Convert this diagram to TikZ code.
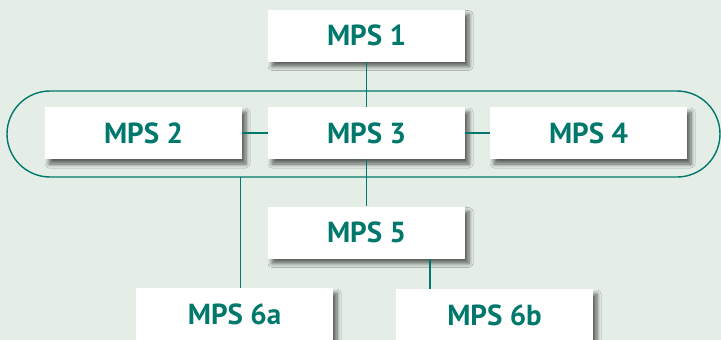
\documentclass[tikz,border=0pt]{standalone}
\usepackage{fontspec}
\setmainfont{PT Sans}
\usetikzlibrary{shadows.blur}
\definecolor{bg}{HTML}{E4EEE6}
\definecolor{teal}{HTML}{00786C}
\tikzset{
  box/.style={fill=white, minimum width=197pt, minimum height=52pt, inner sep=0pt,
    font=\fontsize{29}{32}\selectfont\bfseries, text=teal,
    blur shadow={shadow xshift=4pt, shadow yshift=-5pt, shadow blur steps=6, shadow opacity=60, shadow blur radius=4pt}},
  link/.style={draw=teal, line width=1.4pt}
}
\begin{document}
\begin{tikzpicture}[x=1pt,y=-1pt]
\fill[bg] (0,0) rectangle (721,340);
\useasboundingbox (0,0) rectangle (721,340);
\draw[link, rounded corners=43pt] (7,91) rectangle (720,177);
\coordinate (s6a) at (240.7,177);
\node[box] (m1) at (366.5,35.5) {MPS 1};
\node[box] (m2) at (143.5,133) {MPS 2};
\node[box] (m3) at (366.5,133) {MPS 3};
\node[box] (m4) at (588.5,133) {MPS 4};
\node[box] (m5) at (366.5,232.5) {MPS 5};
\node[box] (m6a) at (234.5,314) {MPS 6a};
\node[box] (m6b) at (494.5,315) {MPS 6b};
\draw[link] (m1.south) -- (m3.north);
\draw[link] (m2.east) -- (m3.west);
\draw[link] (m3.east) -- (m4.west);
\draw[link] (m3.south) -- (m5.north);
\draw[link] (s6a) -- (s6a |- m6a.north);
\draw[link] (m5.south -| 430,0) -- (m6b.north -| 430,0);
\end{tikzpicture}
\end{document}
